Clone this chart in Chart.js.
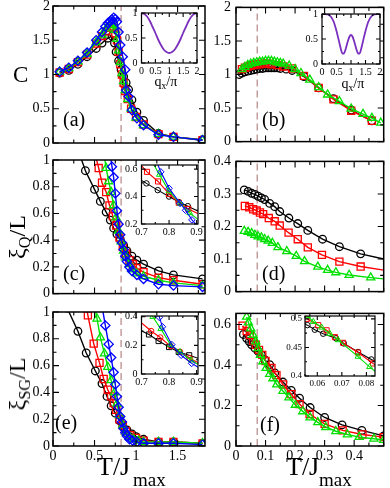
<!DOCTYPE html>
<html><head><meta charset="utf-8">
<script src="https://cdn.jsdelivr.net/npm/chart.js@4.4.1/dist/chart.umd.min.js"></script>
<style>
body{margin:0;width:390px;height:488px;position:relative;overflow:hidden;background:#fff;font-family:"Liberation Serif","Times New Roman",serif;}
canvas{position:absolute;}
.t{position:absolute;color:#000;white-space:nowrap;line-height:1;}
.t sub{font-size:0.68em;vertical-align:-0.3em;line-height:0;}
</style></head><body>
<script>
// critical temperatures (dashed lines)
const tcLeft = 0.82, tcRight = 0.072;

// (a) specific heat
const aBlackT = [0.08,0.19,0.3,0.41,0.52,0.59,0.66,0.71,0.74,0.76,0.79,0.82,0.85,0.88,0.91,0.95,1.01,1.09,1.27,1.45,1.8];
const aBlackC = [1.02,1.06,1.15,1.26,1.38,1.46,1.53,1.56,1.46,1.33,1.2,1.07,0.97,0.88,0.78,0.63,0.45,0.33,0.14,0.09,0.05];
const aMidT   = [0.08,0.19,0.3,0.41,0.52,0.59,0.64,0.68,0.71,0.73,0.75,0.77,0.79,0.81,0.83,0.85,0.87,0.9,0.94,1.0,1.09,1.27,1.45,1.8];
const aRedC   = [1.03,1.08,1.18,1.29,1.45,1.56,1.63,1.68,1.7,1.68,1.6,1.5,1.33,1.15,1.0,0.88,0.76,0.64,0.5,0.38,0.27,0.13,0.09,0.04];
const aGreenC = [1.04,1.09,1.19,1.3,1.47,1.58,1.67,1.72,1.75,1.72,1.65,1.52,1.35,1.18,1.02,0.9,0.77,0.64,0.5,0.37,0.26,0.13,0.09,0.04];
const aBlueT  = [0.08,0.19,0.3,0.41,0.52,0.59,0.63,0.66,0.69,0.71,0.73,0.75,0.77,0.79,0.81,0.84,0.87,0.88,0.91,0.95,1.01,1.09,1.27,1.45,1.8];
const aBlueC  = [1.04,1.1,1.2,1.32,1.5,1.62,1.7,1.75,1.78,1.8,1.83,1.81,1.77,1.62,1.43,1.26,1.07,0.77,0.68,0.48,0.36,0.26,0.12,0.09,0.04];

// insets (a),(b): structure factor vs q_x/pi
const qA   = [0,0.1,0.2,0.3,0.4,0.5,0.6,0.7,0.8,0.9,1.0,1.1,1.2,1.3,1.4,1.5,1.6,1.7,1.8,1.9,2.0];
const sqA  = [1.0,0.98,0.93,0.84,0.72,0.6,0.47,0.36,0.27,0.22,0.2,0.22,0.27,0.36,0.47,0.6,0.72,0.84,0.93,0.98,1.0];
const qB   = [0,0.1,0.2,0.3,0.4,0.5,0.6,0.65,0.7,0.75,0.8,0.85,0.9,0.95,1.0,1.05,1.1,1.15,1.2,1.25,1.3,1.35,1.4,1.5,1.6,1.7,1.8,1.9,2.0];
const sqB  = [1.0,1.0,0.99,0.95,0.85,0.66,0.42,0.3,0.21,0.21,0.27,0.37,0.47,0.55,0.58,0.55,0.47,0.37,0.27,0.21,0.21,0.3,0.42,0.66,0.85,0.95,0.99,1.0,1.0];

// (b) specific heat
const bRedT   = [0.02,0.03,0.04,0.05,0.06,0.07,0.08,0.09,0.1,0.11,0.12,0.14,0.16,0.19,0.23,0.28,0.33,0.39,0.46];
const bRedC   = [1.08,1.1,1.12,1.13,1.14,1.15,1.15,1.16,1.16,1.16,1.15,1.14,1.12,1.09,0.98,0.8,0.63,0.46,0.31];
const bGreenT = [0.02,0.03,0.04,0.05,0.06,0.07,0.08,0.09,0.1,0.11,0.12,0.13,0.14,0.15,0.16,0.18,0.2,0.22,0.25,0.28,0.31,0.35,0.39,0.43,0.46,0.49];
const bGreenC = [1.08,1.11,1.14,1.16,1.17,1.18,1.19,1.19,1.2,1.2,1.2,1.19,1.18,1.17,1.16,1.13,1.08,1.02,0.92,0.81,0.7,0.6,0.49,0.41,0.35,0.28];
const bBlackT = [0.01,0.02,0.03,0.04,0.05,0.06,0.07,0.08,0.09,0.1,0.11,0.12,0.13,0.14,0.15,0.17,0.19,0.23,0.28,0.33,0.39,0.46];
const bBlackC = [1.0,1.02,1.04,1.05,1.06,1.07,1.08,1.09,1.09,1.1,1.1,1.1,1.1,1.1,1.09,1.08,1.06,0.97,0.8,0.64,0.47,0.31];

// (c) xi_Q / L
const cBlackT = [0.3,0.39,0.5,0.57,0.64,0.69,0.73,0.77,0.81,0.85,0.89,0.95,1.01,1.09,1.27,1.45,1.8];
const cBlackV = [1.08,0.92,0.78,0.69,0.61,0.55,0.49,0.445,0.405,0.36,0.32,0.28,0.25,0.22,0.17,0.14,0.11];
const cRedT   = [0.5,0.55,0.59,0.64,0.68,0.72,0.76,0.8,0.84,0.88,0.92,0.96,1.01,1.09,1.27,1.45,1.8];
const cRedV   = [1.06,0.94,0.83,0.76,0.66,0.58,0.51,0.42,0.35,0.3,0.25,0.22,0.19,0.16,0.12,0.1,0.07];
const cGreenT = [0.6,0.64,0.67,0.7,0.73,0.76,0.79,0.82,0.85,0.88,0.92,0.96,1.01,1.09,1.27,1.45,1.8];
const cGreenV = [1.1,0.94,0.84,0.76,0.66,0.57,0.47,0.39,0.32,0.27,0.22,0.18,0.15,0.13,0.1,0.08,0.06];
const cBlueT  = [0.68,0.71,0.73,0.75,0.77,0.79,0.81,0.83,0.85,0.87,0.89,0.92,0.95,1.01,1.09,1.27,1.45,1.8];
const cBlueV  = [1.08,0.95,0.87,0.75,0.62,0.52,0.44,0.38,0.33,0.28,0.24,0.2,0.17,0.14,0.11,0.07,0.06,0.05];
// inset (c)
const icBlackT = [0.68,0.718,0.759,0.8,0.835,0.868,0.92];
const icBlackV = [0.54,0.496,0.447,0.4,0.36,0.33,0.28];
const icRedT   = [0.68,0.72,0.76,0.8,0.835,0.87,0.92];
const icRedV   = [0.67,0.58,0.51,0.42,0.355,0.31,0.26];
const icGreenT = [0.72,0.765,0.8,0.84,0.875,0.92];
const icGreenV = [0.72,0.56,0.44,0.35,0.28,0.21];
const icBlueT  = [0.745,0.77,0.8,0.84,0.86,0.883,0.92];
const icBlueV  = [0.7,0.58,0.46,0.35,0.3,0.23,0.15];

// (d) xi_Q / L
const dBlackT = [0.028,0.041,0.053,0.064,0.075,0.086,0.097,0.114,0.131,0.148,0.179,0.209,0.243,0.293,0.35,0.422,0.5];
const dBlackV = [0.3125,0.308,0.302,0.2985,0.293,0.288,0.283,0.271,0.261,0.246,0.226,0.209,0.188,0.161,0.138,0.116,0.1];
const dRedT   = [0.03,0.045,0.058,0.07,0.081,0.092,0.111,0.131,0.148,0.178,0.209,0.243,0.291,0.35,0.422,0.5];
const dRedV   = [0.263,0.259,0.253,0.249,0.243,0.238,0.226,0.216,0.203,0.181,0.161,0.136,0.113,0.092,0.077,0.066];
const dGreenT = [0.028,0.041,0.053,0.064,0.075,0.086,0.097,0.109,0.123,0.142,0.172,0.204,0.232,0.277,0.31,0.338,0.383,0.456,0.5];
const dGreenV = [0.186,0.183,0.179,0.174,0.169,0.166,0.161,0.156,0.149,0.136,0.124,0.109,0.093,0.076,0.066,0.059,0.051,0.043,0.039];

// (e) xi_SG / L
const eBlackT = [0.17,0.3,0.4,0.51,0.59,0.65,0.7,0.75,0.8,0.84,0.89,0.95,1.0,1.09,1.27,1.45,1.8];
const eBlackV = [1.03,0.856,0.694,0.56,0.466,0.37,0.3,0.245,0.19,0.15,0.12,0.09,0.07,0.05,0.03,0.03,0.02];
const eRedT   = [0.4,0.42,0.49,0.56,0.61,0.66,0.7,0.73,0.76,0.8,0.84,0.88,0.93,1.0,1.09,1.27,1.45,1.8];
const eRedV   = [1.05,0.975,0.764,0.62,0.5,0.42,0.37,0.32,0.27,0.2,0.155,0.11,0.08,0.06,0.04,0.03,0.03,0.02];
const eGreenT = [0.5,0.53,0.57,0.62,0.66,0.7,0.74,0.77,0.8,0.84,0.88,0.92,0.97,1.03,1.09,1.27,1.45,1.8];
const eGreenV = [1.05,0.95,0.81,0.69,0.59,0.49,0.4,0.315,0.23,0.155,0.1,0.07,0.05,0.04,0.03,0.03,0.03,0.02];
const eBlueT  = [0.58,0.63,0.67,0.7,0.73,0.75,0.77,0.79,0.81,0.83,0.85,0.87,0.89,0.92,0.96,1.01,1.09,1.27,1.45,1.8];
const eBlueV  = [1.08,0.9,0.76,0.66,0.55,0.46,0.37,0.29,0.22,0.18,0.13,0.1,0.075,0.05,0.04,0.03,0.02,0.02,0.02,0.01];
// inset (e)
const ieBlackT = [0.68,0.727,0.762,0.8,0.835,0.873,0.92];
const ieBlackV = [0.32,0.276,0.23,0.188,0.154,0.131,0.1];
const ieRedT   = [0.68,0.735,0.768,0.805,0.84,0.875,0.92];
const ieRedV   = [0.39,0.3,0.255,0.195,0.154,0.11,0.065];
const ieGreenT = [0.72,0.741,0.77,0.805,0.84,0.88,0.92];
const ieGreenV = [0.5,0.4,0.315,0.205,0.154,0.096,0.05];
const ieBlueT  = [0.74,0.765,0.776,0.81,0.844,0.882,0.92];
const ieBlueV  = [0.55,0.395,0.33,0.205,0.131,0.074,0.03];

// (f) xi_SG / L
const fBlackT = [0.025,0.036,0.045,0.053,0.064,0.075,0.086,0.097,0.114,0.131,0.159,0.187,0.215,0.251,0.3,0.359,0.426,0.5];
const fBlackV = [0.551,0.532,0.516,0.5,0.483,0.467,0.45,0.426,0.402,0.361,0.316,0.275,0.236,0.19,0.141,0.104,0.077,0.05];
const fRedT   = [0.022,0.036,0.047,0.058,0.067,0.078,0.089,0.1,0.12,0.137,0.159,0.187,0.215,0.249,0.3,0.361,0.428,0.5];
const fRedV   = [0.594,0.568,0.548,0.519,0.5,0.475,0.45,0.42,0.385,0.35,0.304,0.256,0.207,0.158,0.109,0.077,0.057,0.044];
const fGreenT = [0.036,0.042,0.05,0.058,0.067,0.075,0.083,0.091,0.102,0.114,0.125,0.138,0.159,0.179,0.201,0.226,0.251,0.277,0.304,0.338,0.377,0.417,0.467,0.5];
const fGreenV = [0.638,0.61,0.58,0.548,0.516,0.483,0.45,0.418,0.385,0.356,0.334,0.304,0.272,0.239,0.203,0.171,0.141,0.117,0.093,0.073,0.057,0.044,0.036,0.03];
// inset (f)
const ifBlackT = [0.054,0.056,0.059,0.0624,0.0676,0.0708,0.0766,0.082,0.085];
const ifBlackV = [0.492,0.489,0.481,0.474,0.466,0.457,0.442,0.429,0.422];
const ifRedT   = [0.0557,0.0604,0.0638,0.0672,0.0705,0.0766,0.0827,0.085];
const ifRedV   = [0.5,0.489,0.48,0.468,0.458,0.441,0.422,0.416];
const ifGreenT = [0.056,0.0584,0.0618,0.0651,0.0685,0.0766,0.0813,0.085];
const ifGreenV = [0.505,0.495,0.485,0.474,0.463,0.434,0.416,0.403];

// tick values
const xTicksLeft  = [0,0.5,1,1.5];
const xTicksRight = [0,0.1,0.2,0.3,0.4];
const yTicksC     = [0,0.5,1,1.5,2];
const yTicksUnit  = [0,0.2,0.4,0.6,0.8,1];
const yTicksD     = [0,0.1,0.2,0.3,0.4];
const yTicksF     = [0,0.2,0.4,0.6];
const qTicks      = [0,0.5,1,1.5,2];
const sqTicks     = [0,0.5,1];
const insetXTicks = [0.7,0.8,0.9];
const icYTicks    = [0.2,0.4,0.6];
const ieYTicks    = [0,0.2,0.4];
const ifXTicks    = [0.06,0.07,0.08];
const ifYTicks    = [0.4,0.45,0.5];

const FONT = "'Liberation Serif','Times New Roman',serif";
const BLACK = '#000000', RED = '#ff0000', GREEN = '#00e000', BLUE = '#0000ff', PURPLE = '#7b2fbe', DASHC = '#c49c9c';
const MK = {circle: 3.8, rect: 5, triangle: 4.7, rectRot: 4.6};

function series(xs, ys, color, style, k, order, hideEdge){
  const r = MK[style] * (k || 1);
  return {
    data: xs.map((x, i) => ({x, y: ys[i]})),
    showLine: true, borderColor: color, borderWidth: k ? 1.1 : 1.4,
    pointStyle: style, pointBorderColor: color, pointBackgroundColor: 'rgba(0,0,0,0)',
    pointBorderWidth: k ? 1.0 : 1.3,
    pointRadius: c => (hideEdge && c.raw && c.raw.x >= c.chart.scales.x.max) ? 0 : r,
    clip: 0, order
  };
}
function curve(xs, ys){
  return {data: xs.map((x, i) => ({x, y: ys[i]})), showLine: true, borderColor: PURPLE, borderWidth: 1.8,
    pointRadius: 0, cubicInterpolationMode: 'monotone', clip: 0};
}
function tcLine(t, y0, y1){
  return {data: [{x: t, y: y0}, {x: t, y: y1}], showLine: true, borderColor: DASHC, borderWidth: 1.5,
    borderDash: [7, 4], pointRadius: 0, clip: 0, order: 9};
}

const framePlugin = {
  id: 'frame',
  beforeDatasetsDraw(chart, args, o){
    if (!o.fill) return;
    const a = chart.chartArea, c = chart.ctx;
    c.save(); c.fillStyle = o.fill; c.fillRect(a.left, a.top, a.right - a.left, a.bottom - a.top); c.restore();
  },
  afterDatasetsDraw(chart, args, o){
    const a = chart.chartArea, c = chart.ctx, sx = chart.scales.x, sy = chart.scales.y;
    const steps = (s, st) => { const out = []; for (let k = Math.ceil(s.min / st - 1e-6); k * st <= s.max + 1e-9; k++) out.push(k * st); return out; };
    c.save();
    c.strokeStyle = '#000'; c.lineWidth = 1.1;
    c.beginPath();
    const tx = (vals, len) => vals.forEach(v => { const p = sx.getPixelForValue(v); c.moveTo(p, a.bottom); c.lineTo(p, a.bottom - len); c.moveTo(p, a.top); c.lineTo(p, a.top + len); });
    const ty = (vals, len) => vals.forEach(v => { const p = sy.getPixelForValue(v); c.moveTo(a.left, p); c.lineTo(a.left + len, p); c.moveTo(a.right, p); c.lineTo(a.right - len, p); });
    tx(steps(sx, o.xm), o.minor); tx(sx.ticks.map(t => t.value), o.major);
    ty(steps(sy, o.ym), o.minor); ty(sy.ticks.map(t => t.value), o.major);
    c.stroke();
    c.lineWidth = o.lw;
    c.strokeRect(a.left, a.top, a.right - a.left, a.bottom - a.top);
    c.restore();
  }
};

function panel(p){
  const [l, t, r, b] = p.box;
  const [cx, cy, cw, ch] = p.canvas;
  const cv = document.createElement('canvas');
  cv.width = cw; cv.height = ch;
  cv.style.left = cx + 'px'; cv.style.top = cy + 'px';
  document.body.appendChild(cv);
  const fs = p.font || 14;
  const fmt = v => String(Math.round(v * 10000) / 10000);
  const tickFont = {family: FONT, size: fs, lineHeight: 1.2};
  new Chart(cv, {
    type: 'scatter',
    data: {datasets: p.sets},
    options: {
      responsive: false, animation: false, devicePixelRatio: 1,
      layout: {padding: {left: 0, top: t - cy, right: cx + cw - r, bottom: 0}},
      plugins: {
        legend: {display: false}, tooltip: {enabled: false},
        frame: {fill: p.fill, lw: p.lw || 1.5, major: p.tl ? p.tl[0] : 6, minor: p.tl ? p.tl[1] : 3.5, xm: p.xm, ym: p.ym}
      },
      scales: {
        x: {
          type: 'linear', min: p.xr[0], max: p.xr[1],
          grid: {display: false, drawTicks: false}, border: {display: false},
          afterBuildTicks: s => { s.ticks = p.xt.map(value => ({value})); },
          afterFit: s => { s.height = cy + ch - b; },
          ticks: {display: !!p.xLabels, autoSkip: false, maxRotation: 0, minRotation: 0, padding: p.xpad || 2,
            color: '#000', font: tickFont, callback: fmt}
        },
        y: {
          type: 'linear', min: p.yr[0], max: p.yr[1],
          grid: {display: false, drawTicks: false}, border: {display: false},
          afterBuildTicks: s => { s.ticks = p.yt.map(value => ({value})); },
          afterFit: s => { s.width = l - cx; },
          ticks: {autoSkip: false, padding: p.ypad || 3, color: '#000', font: tickFont, callback: fmt}
        }
      }
    },
    plugins: [framePlugin]
  });
}

function four(bt, bv, rt, rv, gt, gv, ut, uv, k, hide, styles){
  const st = styles || ['circle', 'rect', 'triangle', 'rectRot'];
  const out = [];
  if (ut) out.push(series(ut, uv, BLUE, st[3], k, 0, hide));
  out.push(series(gt, gv, GREEN, st[2], k, 1, hide));
  out.push(series(rt, rv, RED, st[1], k, 2, hide));
  out.push(series(bt, bv, BLACK, st[0], k, 3, hide));
  return out;
}

const LEFT = [0, 212], RIGHT = [206, 184];
const rows = [[-6, 161], [148, 157], [300, 188]];

// main panels
panel({box: [53, 6, 205, 143], canvas: [LEFT[0], rows[0][0], LEFT[1], rows[0][1]], xr: [0, 1.83], yr: [0, 2],
  xt: xTicksLeft, yt: yTicksC, xm: 0.25, ym: 0.25, ypad: 3,
  sets: [...four(aBlackT, aBlackC, aMidT, aRedC, aMidT, aGreenC, aBlueT, aBlueC), tcLine(tcLeft, 0, 2)]});
panel({box: [236, 6, 386, 143], canvas: [RIGHT[0], rows[0][0], RIGHT[1], rows[0][1]], xr: [0, 0.5], yr: [0, 2],
  xt: xTicksRight, yt: yTicksC, xm: 0.05, ym: 0.25, ypad: 5,
  sets: [...four(bBlackT, bBlackC, bRedT, bRedC, bGreenT, bGreenC), tcLine(tcRight, 0, 2)]});
panel({box: [53, 160, 205, 294], canvas: [LEFT[0], rows[1][0], LEFT[1], rows[1][1]], xr: [0, 1.83], yr: [0, 1],
  xt: xTicksLeft, yt: yTicksUnit, xm: 0.25, ym: 0.1, ypad: 3,
  sets: [...four(cBlackT, cBlackV, cRedT, cRedV, cGreenT, cGreenV, cBlueT, cBlueV), tcLine(tcLeft, 0, 1)]});
panel({box: [236, 160, 386, 294], canvas: [RIGHT[0], rows[1][0], RIGHT[1], rows[1][1]], xr: [0, 0.5], yr: [0, 0.4],
  xt: xTicksRight, yt: yTicksD, xm: 0.05, ym: 0.05, ypad: 5,
  sets: [...four(dBlackT, dBlackV, dRedT, dRedV, dGreenT, dGreenV, null, null, 0, true), tcLine(tcRight, 0, 0.4)]});
panel({box: [53, 312, 205, 446], canvas: [LEFT[0], rows[2][0], LEFT[1], rows[2][1]], xr: [0, 1.83], yr: [0, 1],
  xt: xTicksLeft, yt: yTicksUnit, xm: 0.25, ym: 0.1, ypad: 3, xLabels: true, xpad: 2,
  sets: [...four(eBlackT, eBlackV, eRedT, eRedV, eGreenT, eGreenV, eBlueT, eBlueV), tcLine(tcLeft, 0, 1)]});
panel({box: [236, 312, 386, 446], canvas: [RIGHT[0], rows[2][0], RIGHT[1], rows[2][1]], xr: [0, 0.5], yr: [0, 0.655],
  xt: xTicksRight, yt: yTicksF, xm: 0.05, ym: 0.1, ypad: 5, xLabels: true, xpad: 2,
  sets: [...four(fBlackT, fBlackV, fRedT, fRedV, fGreenT, fGreenV), tcLine(tcRight, 0, 0.655)]});

// insets
const IN = {fill: '#ffffff', lw: 1.2, tl: [4, 2], font: 10, xLabels: true, xpad: 2, ypad: 4};
panel({...IN, box: [141.5, 13, 197, 63], canvas: [118, 2, 84, 80], xr: [0, 2], yr: [0, 1],
  xt: qTicks, yt: sqTicks, xm: 0.25, ym: 0.25, sets: [curve(qA, sqA)]});
panel({...IN, box: [322, 14, 380, 64], canvas: [298, 2, 88, 80], xr: [0, 2], yr: [0, 1],
  xt: qTicks, yt: sqTicks, xm: 0.25, ym: 0.25, sets: [curve(qB, sqB)]});
panel({...IN, box: [141.5, 165, 198, 224], canvas: [118, 154, 88, 84], xr: [0.7, 0.905], yr: [0.2, 0.63],
  xt: insetXTicks, yt: icYTicks, xm: 0.05, ym: 0.1,
  sets: four(icBlackT, icBlackV, icRedT, icRedV, icGreenT, icGreenV, icBlueT, icBlueV, 0.72)});
panel({...IN, box: [141.5, 316, 198, 374], canvas: [118, 305, 88, 84], xr: [0.7, 0.905], yr: [0, 0.405],
  xt: insetXTicks, yt: ieYTicks, xm: 0.05, ym: 0.1,
  sets: four(ieBlackT, ieBlackV, ieRedT, ieRedV, ieGreenT, ieGreenV, ieBlueT, ieBlueV, 0.72, false, ['rect', 'circle', 'triangle', 'rectRot'])});
panel({...IN, font: 9, ypad: 3, box: [305, 316, 375, 376], canvas: [280, 305, 106, 86], xr: [0.055, 0.0835], yr: [0.4, 0.505],
  xt: ifXTicks, yt: ifYTicks, xm: 0.005, ym: 0.025,
  sets: four(ifBlackT, ifBlackV, ifRedT, ifRedV, ifGreenT, ifGreenV, null, null, 0.72)});

// text
function text(html, x, base, size, center){
  const d = document.createElement('div');
  d.className = 't';
  d.innerHTML = html;
  d.style.fontSize = size + 'px';
  d.style.left = x + 'px';
  d.style.top = (base - 0.84 * size) + 'px';
  document.body.appendChild(d);
  if (center) d.style.left = (x - d.offsetWidth / 2) + 'px';
  return d;
}
function vtext(html, cx, cy, size){
  const d = document.createElement('div');
  d.className = 't';
  d.innerHTML = html;
  d.style.fontSize = size + 'px';
  d.style.left = cx + 'px';
  d.style.top = cy + 'px';
  d.style.transform = 'translate(-50%,-50%) rotate(-90deg)';
  document.body.appendChild(d);
}
text('(a)', 63, 126, 20); text('(b)', 262, 126, 20);
text('(c)', 63, 280, 20); text('(d)', 262, 280, 20);
text('(e)', 55, 429, 20); text('(f)', 260, 431, 20);
text('q<sub>x</sub>/&pi;', 166, 87, 14, true);
text('q<sub>x</sub>/&pi;', 353, 89, 14, true);
text('C', 13, 82, 23);
vtext('&xi;<sub>Q</sub>/L', 17, 237, 24);
vtext('&xi;<sub>SG</sub>/L', 17, 384, 24);
text('T/J', 97, 476, 26); text('max', 133, 486, 19);
text('T/J', 286, 476, 26); text('max', 319, 486, 19);
</script>
</body></html>
